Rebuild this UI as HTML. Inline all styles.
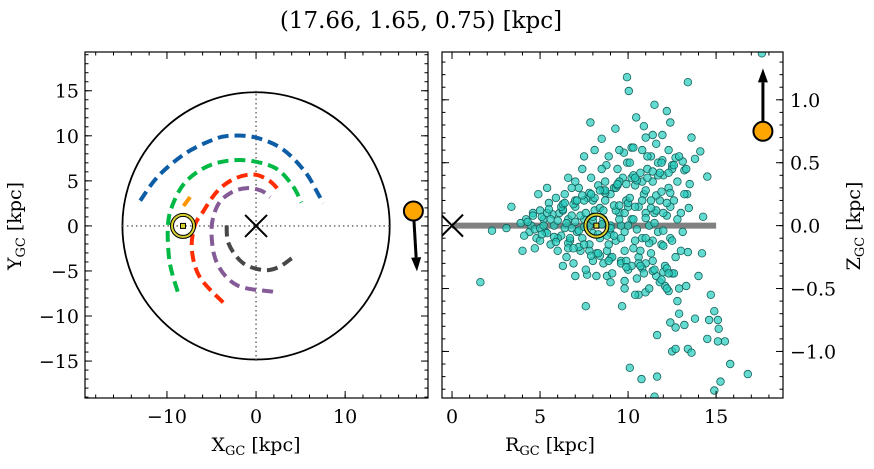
<!DOCTYPE html>
<html><head><meta charset="utf-8"><style>
body{margin:0;background:#fff}
text{font-family:"DejaVu Serif","Liberation Serif",serif;fill:#000}
</style></head><body>
<svg id="s" width="874" height="464" xmlns="http://www.w3.org/2000/svg">
<text x="421" y="28" font-size="23" text-anchor="middle">(17.66, 1.65, 0.75) [kpc]</text>
</svg>
<script>
// ---- data ----
const targetXYZ = [17.66, 1.65, 0.75];
const targetVelXY = [0.4, -6.7];
const targetVelZ = 0.5;
const sunXY = [-8.2, 0];
const sunRZ = [8.2, 0.0];
const diskRadius = 15;
const orbitBlue = [[-13,2.8],[-11,5.5],[-8,8],[-5,9.5],[-3,10],[0,9.8],[3,8.5],[5.5,6],[7,3.5],[7.5,2.5]];
const orbitGreen = [[-8.8,-7.3],[-9.7,-4],[-9.9,0],[-9.3,2.5],[-7.8,5],[-5,6.8],[-1.5,7.3],[2,6.5],[4,4.6],[5.1,2.6]];
const orbitOrange = [[-7.4,3.2],[-8.3,2.0]];
const orbitRed = [[-3.7,-8.5],[-6.3,-5.7],[-7.2,-2.7],[-6.9,0],[-6,1.5],[-4.4,3.8],[-2.5,5.2],[-0.3,5.7],[1.5,5],[2.7,3.8]];
const orbitPurple = [[1.9,-7.3],[-2.1,-6.6],[-4.4,-4.1],[-5,-0.4],[-4.3,2.3],[-2.8,3.7],[-1,4.2],[0.6,3.9],[1.6,3.2]];
const orbitGray = [[4,-3.6],[2.5,-4.6],[0.8,-4.9],[-1.5,-4.1],[-3.1,-1.9],[-3.3,0.7]];
const starR = [9.94,10.04,13.4,11.5,12.2,7.86,10.46,12.4,9.28,8.5,13.6,14.1,14.5,3.37,2.27,3.09,1.61,4.7,7.6,9.66,14.26,14.2,14.0,14.7,14.9,14.6,15.1,15.15,14.5,15.5,15.1,15.8,16.8,15.25,14.9,10.1,10.76,11.65,11.5,11.65,12.5,12.7,13.4,13.6,12.9,12.4,12.7,13.2,13.8,12.8,17.6,10.6,10.99,12.1,12.3,12.9,13.3,9.8,8.8,7.67,12.5,13.4,13.35,13.45,13.5,9.95,9.76,8.77,6.6,7.0,10.9,11.95,11.4,10.2,10.8,11.3,11.95,12.7,13.1,13.8,13.2,12.5,
4.2,4.4,4.6,4.8,4.5,5.0,5.0,5.2,5.3,4.0,3.9,5.5,5.6,5.8,5.9,6.0,6.1,6.2,6.4,6.5,6.6,6.7,6.8,6.9,7.0,7.1,7.2,7.3,7.4,7.5,7.6,7.7,7.8,7.9,8.0,8.1,8.3,8.4,8.5,8.6,8.7,8.8,8.9,9.0,9.1,9.2,9.3,9.4,9.5,9.6,9.7,9.8,9.9,10.0,10.1,10.2,10.3,10.4,10.5,10.6,10.7,10.8,10.9,11.0,11.1,11.2,11.3,11.4,11.5,11.6,11.7,11.8,11.9,12.0,12.1,12.2,12.3,12.4,12.5,12.6,12.7,12.8,13.0,13.1,12.9,13.2,
6.3,6.8,7.3,7.8,8.0,8.6,9.0,9.3,9.6,10.0,10.3,10.6,11.0,11.3,11.7,12.0,8.2,9.0,9.8,10.4,11.2,11.8,12.2,8.7,9.5,10.3,11.0,11.6,12.3,12.8,13.3,7.0,6.3,5.4,4.9,7.5,8.1,10.8,11.4,12.6,13.0,12.4,
4.3,4.7,5.1,5.4,5.7,6.0,6.3,6.6,6.9,7.2,7.5,7.8,8.1,8.4,8.7,9.0,9.3,9.6,9.9,10.2,10.5,10.8,11.1,11.4,11.7,12.0,12.3,
4.1,4.6,5.0,5.4,5.8,6.2,6.6,7.0,7.4,7.8,8.2,8.6,9.0,9.4,9.8,10.2,10.6,11.0,11.4,11.8,12.2,12.6,
5.2,5.6,6.0,6.4,6.8,7.2,7.6,8.0,8.4,8.8,9.2,9.6,10.0,10.4,10.8,11.2,11.6,12.0,12.4,
5.1,5.5,5.9,6.3,6.7,7.1,7.5,7.9,8.3,8.7,9.1,9.5,9.9,10.3,10.7,11.1,11.5,11.9,12.3,
6.5,7.0,7.5,8.0,8.5,9.0,9.5,10.0,10.5,11.0,11.5,12.0,
6.4,6.9,7.4,7.9,8.4,8.9,9.4,9.9,10.4,10.9,11.4,11.9,
8.0,8.6,9.2,9.8,10.4,11.0,11.6,12.2,8.3,8.9,9.5,10.1,10.7,11.3,11.9,12.5];
const starZ = [1.18,1.07,1.14,0.96,0.91,0.82,0.86,0.82,0.77,0.69,0.70,0.59,0.39,0.15,-0.04,-0.02,-0.45,-0.18,-0.64,-0.64,0.07,-0.22,-0.40,-0.55,-0.68,-0.75,-0.75,-0.82,-0.90,-0.92,-0.92,-1.10,-1.18,-1.24,-1.31,-1.13,-1.22,-1.20,-1.36,-0.87,-1.0,-0.98,-0.98,-1.01,-0.70,-0.77,-0.81,-0.79,-0.74,-0.60,1.37,-0.55,-0.53,-0.48,-0.52,-0.50,-0.48,-0.44,-0.40,-0.39,-0.38,-0.21,0.25,0.14,0.33,0.50,0.58,0.48,0.38,0.35,0.79,0.72,0.72,0.62,0.60,0.55,0.52,0.54,0.51,0.53,0.44,0.48,
0.05,-0.05,0.1,-0.1,0.0,0.12,-0.12,0.05,-0.05,-0.2,0.02,0.18,-0.15,0.0,0.22,-0.2,0.1,-0.08,0.25,-0.25,0.05,-0.12,0.3,-0.3,0.15,-0.05,0.3,-0.2,0.45,0.05,-0.35,0.22,-0.15,0.38,-0.28,0.12,0.32,-0.1,0.45,-0.3,0.2,-0.2,0.55,0.0,-0.38,0.3,-0.12,0.45,0.1,-0.28,0.38,-0.05,0.2,-0.35,0.5,0.05,-0.18,0.32,-0.42,0.15,0.42,-0.1,0.25,-0.3,0.55,0.0,-0.22,0.35,0.1,-0.4,0.5,0.2,-0.15,0.4,-0.32,0.08,0.3,-0.1,0.45,0.2,-0.25,0.35,0.1,-0.05,0.55,0.25,
0.12,-0.02,0.08,0.0,0.2,0.05,0.25,0.12,0.0,0.15,0.05,-0.25,0.1,0.2,-0.05,0.1,-0.4,-0.45,-0.5,-0.55,-0.5,-0.45,-0.5,0.35,0.6,0.62,0.7,0.65,0.6,0.05,0.45,-0.4,-0.32,0.3,0.25,0.55,0.6,0.35,-0.12,-0.38,-0.2,0.15,
0.03,-0.03,0.07,-0.06,0.09,-0.1,0.13,-0.14,0.17,-0.17,0.2,-0.2,0.22,-0.24,0.26,-0.26,0.3,-0.3,0.33,-0.32,0.36,-0.34,0.38,-0.36,0.4,-0.37,0.42,
-0.08,0.08,-0.02,0.1,-0.09,0.15,-0.18,0.2,-0.1,0.26,-0.22,0.28,-0.06,0.32,-0.2,0.38,-0.3,0.28,-0.28,0.42,-0.34,0.48,
0.0,0.05,0.04,-0.02,0.08,-0.04,0.1,-0.06,0.14,-0.08,0.16,-0.1,0.18,-0.12,0.2,-0.14,0.24,-0.16,0.26,
-0.07,0.13,-0.13,0.17,-0.1,0.2,-0.15,0.25,-0.22,0.28,-0.25,0.35,-0.28,0.4,-0.32,0.45,-0.35,0.5,-0.38,
0.02,0.03,-0.01,0.04,0.01,-0.02,0.05,0.0,-0.03,0.06,0.02,-0.04,
0.18,-0.18,0.24,-0.24,0.28,-0.28,0.33,-0.33,0.38,-0.38,0.43,-0.43,
0.07,0.12,-0.08,0.1,0.15,-0.1,0.12,0.18,-0.07,-0.15,0.16,0.22,-0.2,0.14,0.27,-0.12];
const xTicksL = [-10,0,10], yTicksL = [-15,-10,-5,0,5,10,15];
const xTicksR = [0,5,10,15], yTicksR = [-1.0,-0.5,0.0,0.5,1.0];

// ---- axes ----
const L = {x0:85,x1:428,y0:52,y1:398,xmin:-19.2,xmax:19.3,ymin:-19.1,ymax:19.3};
const R = {x0:442,x1:783,y0:52,y1:398,xmin:-0.57,xmax:18.8,ymin:-1.37,ymax:1.38};
const sx=(a,v)=>a.x0+(v-a.xmin)/(a.xmax-a.xmin)*(a.x1-a.x0);
const sy=(a,v)=>a.y1-(v-a.ymin)/(a.ymax-a.ymin)*(a.y1-a.y0);
const svg=document.getElementById('s'), NS='http://www.w3.org/2000/svg';
function mk(t,at,parent){const e=document.createElementNS(NS,t);for(const k in at)e.setAttribute(k,at[k]);(parent||svg).appendChild(e);return e;}

function clip(id,a){const c=mk('clipPath',{id:id});mk('rect',{x:a.x0,y:a.y0,width:a.x1-a.x0,height:a.y1-a.y0},c);}
clip('cl',L);clip('cr',R);
const gL=mk('g',{'clip-path':'url(#cl)'});


const gR=mk('g',{'clip-path':'url(#cr)'});



// left panel
let e=mk('circle',{cx:sx(L,0),cy:sy(L,0),r:sx(L,diskRadius)-sx(L,0),fill:'none',stroke:'#000','stroke-width':1.8},gL);


e=mk('line',{x1:sx(L,-diskRadius),x2:sx(L,diskRadius),y1:sy(L,0),y2:sy(L,0),stroke:'#777','stroke-width':1.6,'stroke-dasharray':'1.5 3'},gL);


e=mk('line',{x1:sx(L,0),x2:sx(L,0),y1:sy(L,-diskRadius),y2:sy(L,diskRadius),stroke:'#777','stroke-width':1.6,'stroke-dasharray':'1.5 3'},gL);


function smooth(P){let d=`M${P[0][0].toFixed(1)} ${P[0][1].toFixed(1)}`;
 for(let i=0;i<P.length-1;i++){const p0=P[i-1]||P[i],p1=P[i],p2=P[i+1],p3=P[i+2]||p2;
  const c1=[p1[0]+(p2[0]-p0[0])/6,p1[1]+(p2[1]-p0[1])/6],c2=[p2[0]-(p3[0]-p1[0])/6,p2[1]-(p3[1]-p1[1])/6];
  d+=`C${c1[0].toFixed(1)} ${c1[1].toFixed(1)} ${c2[0].toFixed(1)} ${c2[1].toFixed(1)} ${p2[0].toFixed(1)} ${p2[1].toFixed(1)}`;}
 return d;}
function orbit(pts,col,name){const P=pts.map(p=>[sx(L,p[0]),sy(L,p[1])]);
 const el=mk('path',{d:smooth(P),fill:'none',stroke:col,'stroke-width':4,'stroke-dasharray':'11 6'},gL);
 
 }
orbit(orbitBlue,'#0c5da5','orbit-blue');
orbit(orbitGreen,'#00b945','orbit-green');
orbit(orbitOrange,'#ff9500','orbit-orange');
orbit(orbitRed,'#ff2c00','orbit-red');
orbit(orbitPurple,'#845b97','orbit-purple');
orbit(orbitGray,'#474747','orbit-gray');
function cross(g,cx,cy,name){const el=mk('path',{d:`M${cx-11} ${cy-11}L${cx+11} ${cy+11}M${cx-11} ${cy+11}L${cx+11} ${cy-11}`,stroke:'#000','stroke-width':2,fill:'none'},g);
 
 }
cross(gL,sx(L,0),sy(L,0),'galactic-center-marker');
function sun(g,cx,cy,name){const s=mk('g',{},g);
 
 
 mk('circle',{cx:cx,cy:cy,r:11,fill:'none',stroke:'#000','stroke-width':4},s);
 mk('circle',{cx:cx,cy:cy,r:11,fill:'none',stroke:'#d6d030','stroke-width':2},s);
 mk('rect',{x:cx-2.5,y:cy-2.5,width:5,height:5,fill:'#d6d030',stroke:'#000','stroke-width':1},s);}

// right panel
e=mk('line',{x1:sx(R,0),x2:sx(R,15),y1:sy(R,0),y2:sy(R,0),stroke:'#808080','stroke-width':6},gR);


cross(gR,sx(R,0),sy(R,0),'galactic-center-marker-rz');
for(let i=0;i<starR.length;i++){
 const c=mk('circle',{cx:sx(R,starR[i]).toFixed(1),cy:sy(R,starZ[i]).toFixed(1),r:3.8,fill:'rgba(40,205,190,0.72)',stroke:'#17605a','stroke-width':0.8},gR);
 
 
}
sun(gL,sx(L,sunXY[0]),sy(L,sunXY[1]),'sun-marker-xy');
sun(gR,sx(R,sunRZ[0]),sy(R,sunRZ[1]),'sun-marker-rz');

// target + arrows (not clipped)
function arrow(x1,y1,x2,y2,name){const g=mk('g',{});
 
 
 const dx=x2-x1,dy=y2-y1,l=Math.hypot(dx,dy),ux=dx/l,uy=dy/l,h=14,w=5;
 mk('line',{x1:x1,y1:y1,x2:x2-ux*h,y2:y2-uy*h,stroke:'#000','stroke-width':3},g);
 mk('path',{d:`M${x2} ${y2}L${x2-ux*h-uy*w} ${y2-uy*h+ux*w}L${x2-ux*h+uy*w} ${y2-uy*h-ux*w}Z`,fill:'#000'},g);}
const tx=sx(L,targetXYZ[0]),ty=sy(L,targetXYZ[1]);
arrow(tx,ty,sx(L,targetXYZ[0]+targetVelXY[0]),sy(L,targetXYZ[1]+targetVelXY[1]),'velocity-arrow-xy');
e=mk('circle',{cx:tx,cy:ty,r:9.5,fill:'#ffa500',stroke:'#000','stroke-width':2});


const rx=sx(R,targetXYZ[0]),ry=sy(R,targetXYZ[2]);
arrow(rx,ry,rx,sy(R,targetXYZ[2]+targetVelZ),'velocity-arrow-z');
e=mk('circle',{cx:rx,cy:ry,r:9.5,fill:'#ffa500',stroke:'#000','stroke-width':2});



// frames, ticks
function frame(a,name){const r=mk('rect',{x:a.x0,y:a.y0,width:a.x1-a.x0,height:a.y1-a.y0,fill:'none',stroke:'#000','stroke-width':1.2});
 
 }
frame(L,'xy-axes-frame');frame(R,'rz-axes-frame');
function ticks(a,axis,vals,len){vals.forEach(v=>{
 if(axis==='x'){const x=sx(a,v);if(x<a.x0||x>a.x1)return;
  mk('line',{x1:x,x2:x,y1:a.y1,y2:a.y1-len,stroke:'#000','stroke-width':1});
  mk('line',{x1:x,x2:x,y1:a.y0,y2:a.y0+len,stroke:'#000','stroke-width':1});}
 else{const y=sy(a,v);if(y<a.y0||y>a.y1)return;
  mk('line',{x1:a.x0,x2:a.x0+len,y1:y,y2:y,stroke:'#000','stroke-width':1});
  mk('line',{x1:a.x1,x2:a.x1-len,y1:y,y2:y,stroke:'#000','stroke-width':1});}});}
const rng=(a,b,s)=>{const o=[];for(let v=a;v<=b+1e-9;v+=s)o.push(+v.toFixed(3));return o;};
ticks(L,'x',xTicksL,7);ticks(L,'x',rng(-18,18,2),3.5);
ticks(L,'y',yTicksL,7);ticks(L,'y',rng(-19,19,1),3.5);
ticks(R,'x',xTicksR,7);ticks(R,'x',rng(0,18,1),3.5);
ticks(R,'y',yTicksR,7);ticks(R,'y',rng(-1.3,1.3,0.1),3.5);
function lab(x,y,t,anc,name){const el=mk('text',{x:x,y:y,'font-size':19,'text-anchor':anc});el.textContent=t;
 
 }
const fmt=v=>(v<0?'\u2212':'')+Math.abs(v);
xTicksL.forEach(v=>lab(sx(L,v),423,fmt(v),'middle','x-tick-label'));
yTicksL.forEach(v=>lab(L.x0-6,sy(L,v)+7,fmt(v),'end','y-tick-label'));
xTicksR.forEach(v=>lab(sx(R,v),423,fmt(v),'middle','r-tick-label'));
yTicksR.forEach(v=>lab(R.x1+7,sy(R,v)+7,(v<0?'\u2212':'')+Math.abs(v).toFixed(1),'start','z-tick-label'));
function axlab(x,y,main,sub,rot,name){const el=mk('text',{x:x,y:y,'font-size':19,'text-anchor':'middle'});
 if(rot)el.setAttribute('transform',`rotate(-90 ${x} ${y})`);
 
 
 el.innerHTML=`${main}<tspan font-size="13" dy="4">${sub}</tspan><tspan dy="-4"> [kpc]</tspan>`;}
axlab(256,451,'X','GC',false,'x-axis-title');
axlab(550,451,'R','GC',false,'r-axis-title');
axlab(21,226,'Y','GC',true,'y-axis-title');
axlab(860,226,'Z','GC',true,'z-axis-title');
</script>
</body></html>
